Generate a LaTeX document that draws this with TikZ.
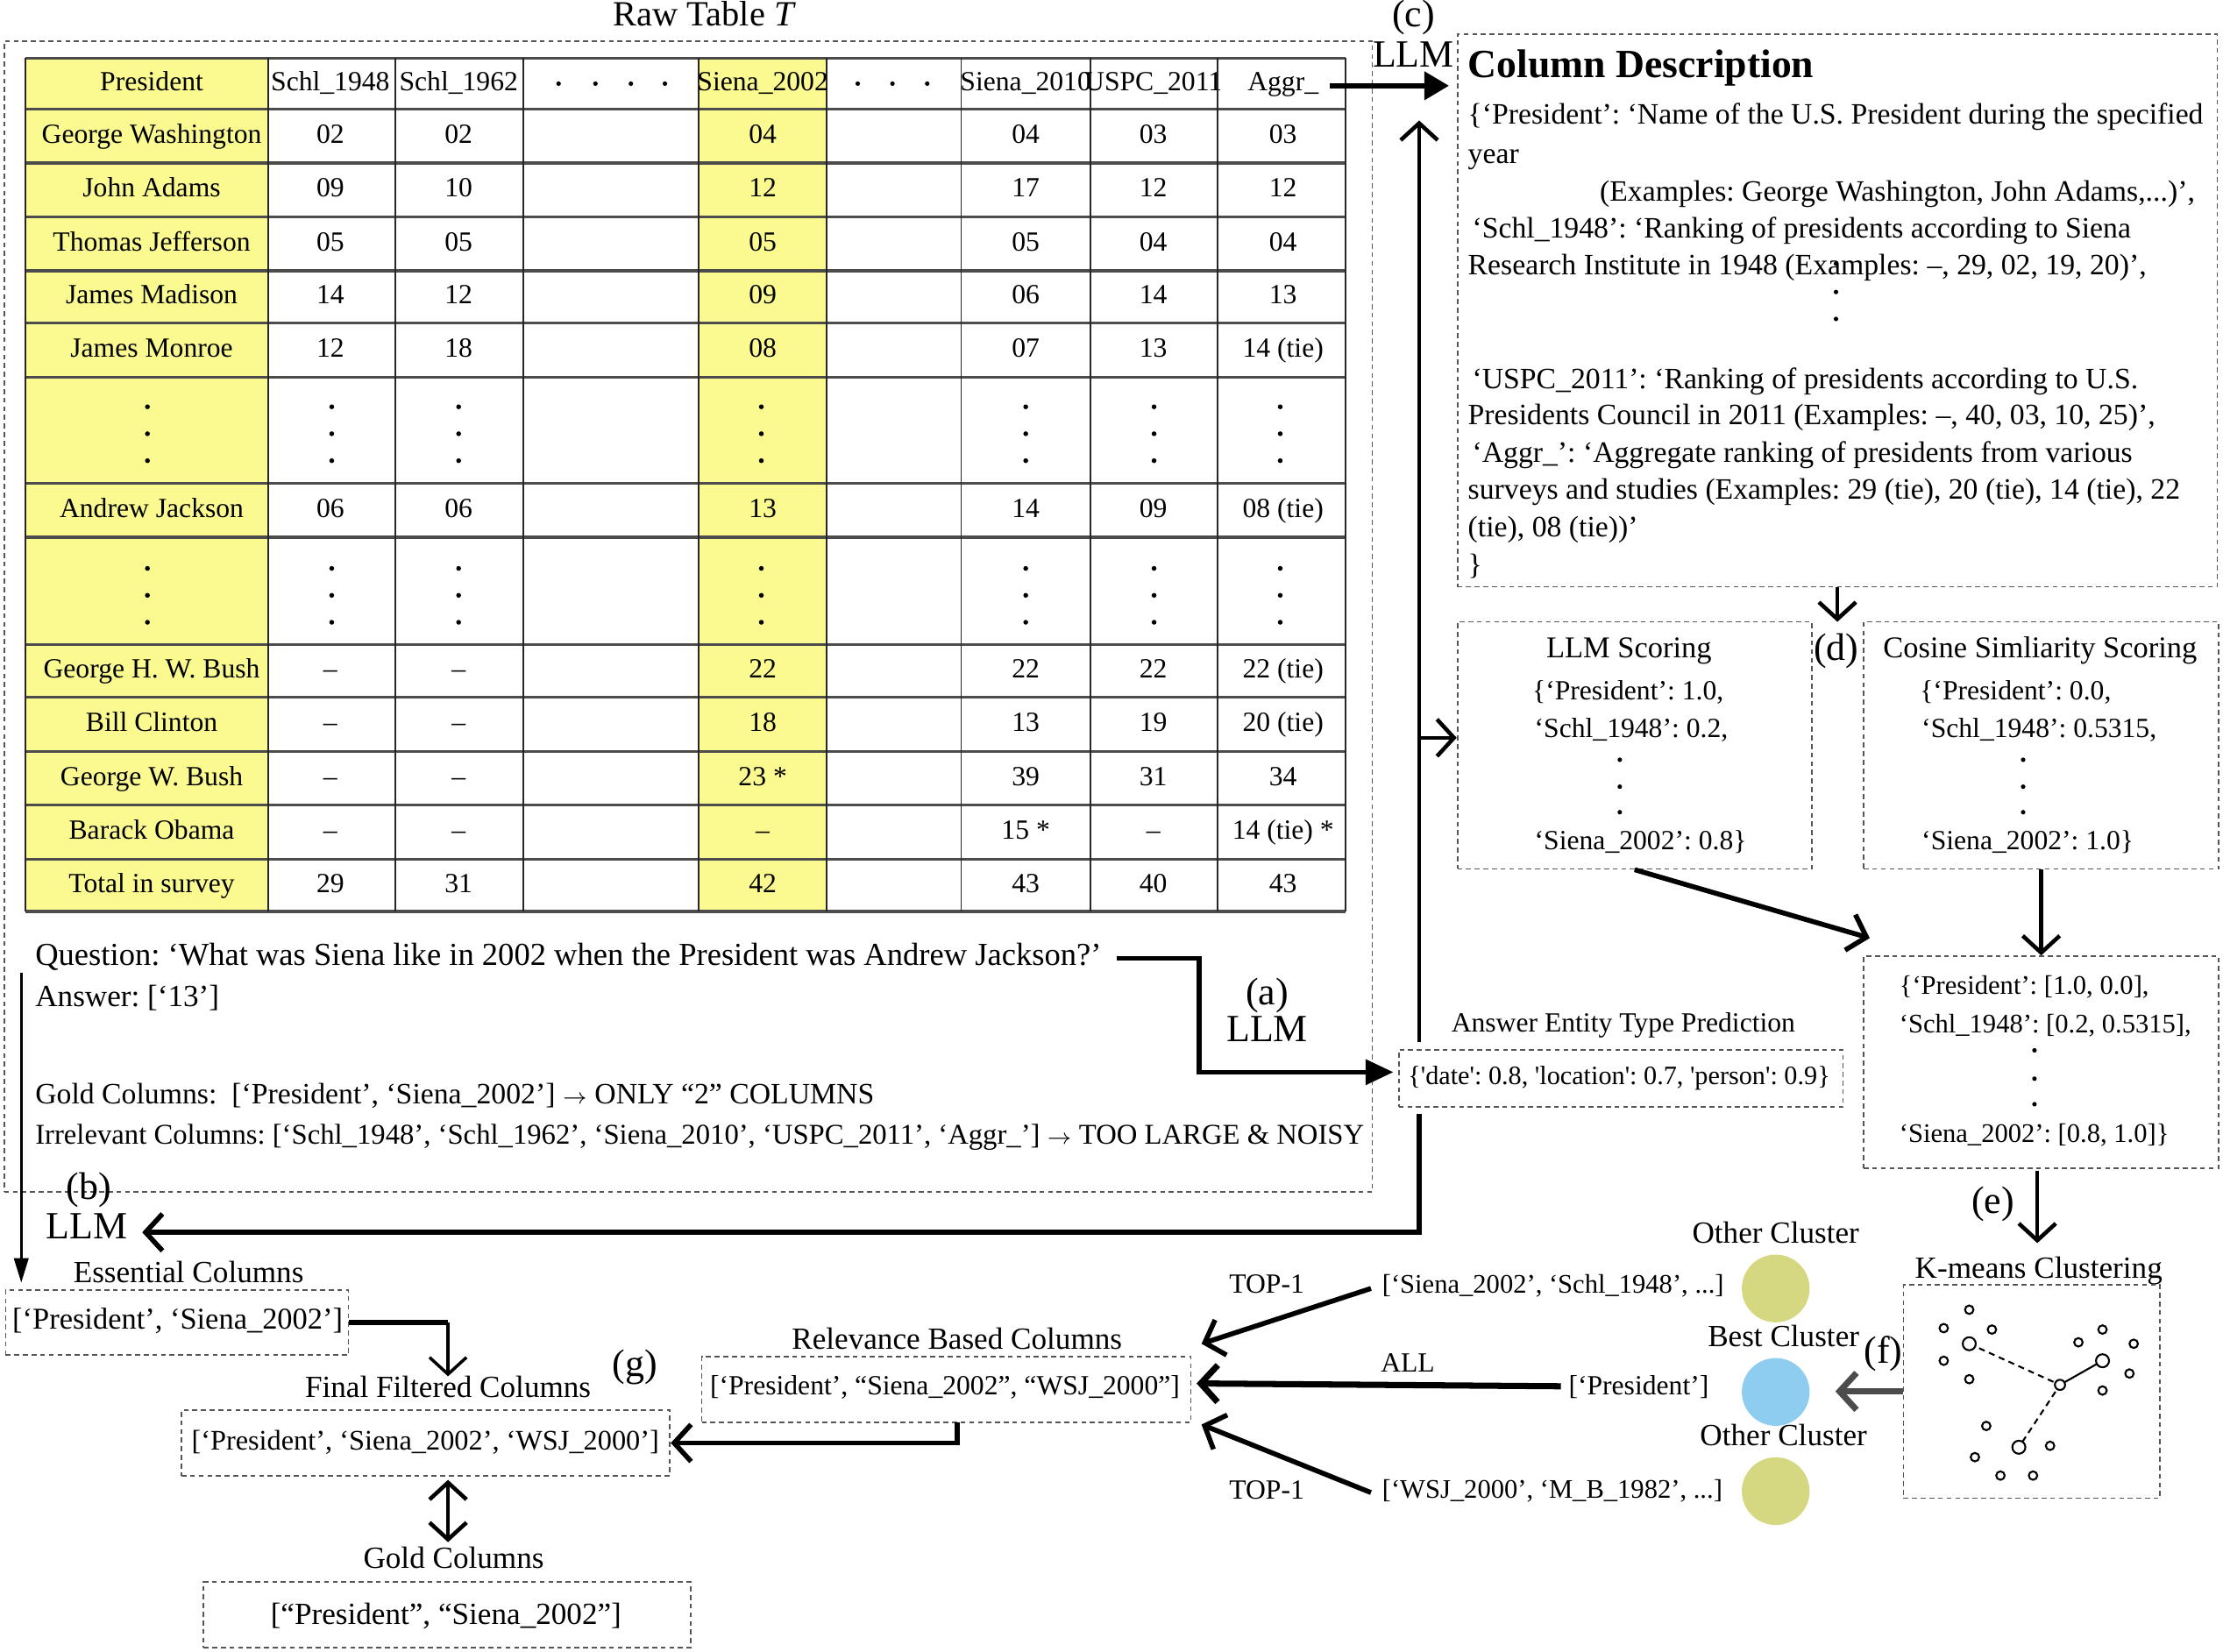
\documentclass[tikz,border=0pt]{standalone}
\usepackage{fontspec}
\setmainfont{Liberation Serif}[Ligatures=TeXOff]
\usetikzlibrary{arrows.meta,fit}
\newcommand\ftab{\fontsize{9}{10}\selectfont}
\newcommand\fdesc{\fontsize{9.6}{11}\selectfont}
\newcommand\fcdt{\fontsize{13}{15}\selectfont\bfseries}
\newcommand\fqa{\fontsize{10.4}{12}\selectfont}
\newcommand\fqb{\fontsize{10}{12}\selectfont}
\newcommand\fqc{\fontsize{9.6}{12}\selectfont}
\newcommand\fqd{\fontsize{9.3}{12}\selectfont}
\newcommand\flab{\fontsize{12.5}{14}\selectfont}
\newcommand\fraw{\fontsize{11.5}{13}\selectfont}
\newcommand\fsm{\fontsize{9}{10}\selectfont}
\newcommand\fsn{\fontsize{8.7}{10}\selectfont}
\newcommand\fsc{\fontsize{9.8}{11}\selectfont}
\newcommand\fhd{\fontsize{10}{12}\selectfont}
\newcommand\sarr{${\scriptstyle\rightarrow}$}
\definecolor{tyellow}{RGB}{250,250,145}
\definecolor{olivec}{RGB}{213,216,128}
\definecolor{bluec}{RGB}{142,204,240}
\definecolor{dashc}{RGB}{85,85,85}
\begin{document}
\frenchspacing
\begin{tikzpicture}[x=0.016173cm,y=-0.016173cm,
  tc/.style={inner sep=0pt,anchor=mid},
  tw/.style={inner sep=0pt,anchor=mid west},
  dbox/.style={draw=dashc,dash pattern=on 1.6pt off 1.2pt,line width=0.5pt,inner sep=0pt},
  hl/.style={draw=black!70,line width=0.9pt},
  vl/.style={draw=black!85,line width=0.5pt},
  tri/.style={-{Triangle[length=8pt,width=9pt]}},
  barb/.style={-{Straight Barb[length=5.5pt,width=12pt]}},
  dbarb/.style={{Straight Barb[length=5.5pt,width=12pt]}-{Straight Barb[length=5.5pt,width=12pt]}},
  lwA/.style={line width=1.6pt},
  lwB/.style={line width=1.3pt},
  lwC/.style={line width=1pt},
  sdot/.style={draw=black,line width=0.6pt}
]
\useasboundingbox (0,0) rectangle (1568,1165);

% ---------------- Raw table ----------------
\node[tc,font=\fraw] (rawt) at (497,13) {Raw Table \textit{T}};
\node[dbox,fit={(3,29)(968,841)}] (tbox) {};
\fill[tyellow] (18,41) rectangle (189,643);
\fill[tyellow] (493,41) rectangle (583,643);
\foreach \yy in {41,77,115,153,191,228,266,341,379,455,492,530,568,606,643}
  \draw[hl] (18,\yy) -- (949,\yy);
\foreach \xx in {18,189,279,369,493,583,678,769,859,949}
  \draw[vl] (\xx,41) -- (\xx,643);
\begin{scope}[every node/.style={tc,font=\ftab}]
\node (hP) at (107,59) {President};
\node (hA) at (233,59) {Schl\_1948};
\node (hB) at (323.5,59) {Schl\_1962};
\node (hS) at (538,59) {Siena\_2002};
\node (hC) at (723.5,59) {Siena\_2010};
\node (hD) at (813.5,59) {USPC\_2011};
\node (hE) at (905,59) {Aggr\_};
\foreach \vy/\vp/\va/\vb/\vs/\vc/\vd/\ve/\vk in {
 96/George Washington/02/02/04/04/03/03/2,
 134/John Adams/09/10/12/17/12/12/3,
 172/Thomas Jefferson/05/05/05/05/04/04/4,
 209.5/James Madison/14/12/09/06/14/13/5,
 247/James Monroe/12/18/08/07/13/14 (tie)/6,
 360/Andrew Jackson/06/06/13/14/09/08 (tie)/8,
 473.5/George H. W. Bush/–/–/22/22/22/22 (tie)/10,
 511/Bill Clinton/–/–/18/13/19/20 (tie)/11,
 549/George W. Bush/–/–/23 */39/31/34/12,
 587/Barack Obama/–/–/–/15 */–/14 (tie) */13,
 624.5/Total in survey/29/31/42/43/40/43/14}{
  \node (p\vk) at (107,\vy) {\vp};
  \node (a\vk) at (233,\vy) {\va};
  \node (b\vk) at (323.5,\vy) {\vb};
  \node (s\vk) at (538,\vy) {\vs};
  \node (c\vk) at (723.5,\vy) {\vc};
  \node (d\vk) at (813.5,\vy) {\vd};
  \node (e\vk) at (905,\vy) {\ve};
}
\end{scope}
\foreach \xx in {394,420,445,469,605,629.5,654}
  \fill (\xx,59) circle (1.6);
\foreach \xx in {104,234,323.5,537,723.5,814,903}
  \foreach \yy in {287,306,325,401,420,439}
    \fill (\xx,\yy) circle (1.7);

% ---------------- Question block ----------------
\node[tw,font=\fqa] (q1) at (24.5,676) {Question: ‘What was Siena like in 2002 when the President was Andrew Jackson?’};
\node[tw,font=\fqb] (q2) at (24.5,705) {Answer: [‘13’]};
\node[tw,font=\fqc] (q3) at (24.5,774) {Gold Columns:~ [‘President’, ‘Siena\_2002’] \sarr{} ONLY “2” COLUMNS};
\node[tw,font=\fqd] (q4) at (24.5,802) {Irrelevant Columns: [‘Schl\_1948’, ‘Schl\_1962’, ‘Siena\_2010’, ‘USPC\_2011’, ‘Aggr\_’] \sarr{} TOO LARGE \& NOISY};

% ---------------- LLM labels ----------------
\node[tc,font=\flab] (la) at (893.8,703.9) {(a)};
\node[tc,font=\flab] (llma) at (893.8,729.6) {LLM};
\node[tc,font=\flab] (lb) at (62.7,841) {(b)};
\node[tc,font=\flab] (llmb) at (61.4,868.7) {LLM};
\node[tc,font=\flab] (lc) at (997,14) {(c)};
\node[tc,font=\flab] (llmc) at (997,42) {LLM};
\node[tc,font=\flab] (ld) at (1295.3,460.7) {(d)};
\node[tc,font=\flab] (le) at (1405.7,851.2) {(e)};
\node[tc,font=\flab] (lf) at (1328.5,956.5) {(f)};
\node[tc,font=\flab] (lg) at (448,966) {(g)};

% ---------------- Column description ----------------
\node[dbox,fit={(1028,24)(1564,414)}] (cd) {};
\node[tw,font=\fcdt] (cdt) at (1035,49.6) {Column Description};
\begin{scope}[every node/.style={tw,font=\fdesc}]
\node (cd1) at (1035,82.8) {\{‘President’: ‘Name of the U.S. President during the specified};
\node (cd2) at (1035,110.4) {year};
\node (cd3) at (1128,136.6) {(Examples: George Washington, John Adams,...)’,};
\node (cd4) at (1038,162.8) {‘Schl\_1948’: ‘Ranking of presidents according to Siena};
\node (cd5) at (1035,189) {Research Institute in 1948 (Examples: –, 29, 02, 19, 20)’,};
\node (cd6) at (1038,269) {‘USPC\_2011’: ‘Ranking of presidents according to U.S.};
\node (cd7) at (1035,294.8) {Presidents Council in 2011 (Examples: –, 40, 03, 10, 25)’,};
\node (cd8) at (1038,321) {‘Aggr\_’: ‘Aggregate ranking of presidents from various};
\node (cd9) at (1035,347.3) {surveys and studies (Examples: 29 (tie), 20 (tie), 14 (tie), 22};
\node (cd10) at (1035,374) {(tie), 08 (tie))’};
\node (cd11) at (1035,400) {\}};
\end{scope}
\foreach \yy in {186,206,225} \fill (1295,\yy) circle (1.6);

% ---------------- Scoring boxes ----------------
\node[dbox,fit={(1028,438.7)(1278,613)}] (llm) {};
\node[tc,font=\fsc] (llmt) at (1149,459) {LLM Scoring};
\node[tw,font=\fsm] (l1) at (1080.4,489) {\{‘President’: 1.0,};
\node[tw,font=\fsm] (l2) at (1082,515.6) {‘Schl\_1948’: 0.2,};
\node[tw,font=\fsm] (l3) at (1082,594.7) {‘Siena\_2002’: 0.8\}};
\foreach \yy in {536,555,573} \fill (1142.5,\yy) circle (1.6);

\node[dbox,fit={(1314.5,438.7)(1565,613)}] (cos) {};
\node[tc,font=\fsc] (cost) at (1439,459) {Cosine Simliarity Scoring};
\node[tw,font=\fsm] (c1) at (1353.8,489) {\{‘President’: 0.0,};
\node[tw,font=\fsm] (c2) at (1355,515.6) {‘Schl\_1948’: 0.5315,};
\node[tw,font=\fsm] (c3) at (1355,594.7) {‘Siena\_2002’: 1.0\}};
\foreach \yy in {536,555,573} \fill (1427,\yy) circle (1.6);

\node[dbox,fit={(1314.5,674.6)(1565,824)}] (comb) {};
\node[tw,font=\fsn] (m1) at (1339.3,696.6) {\{‘President’: [1.0, 0.0],};
\node[tw,font=\fsn] (m2) at (1339.3,723.4) {‘Schl\_1948’: [0.2, 0.5315],};
\node[tw,font=\fsn] (m3) at (1339.3,801.2) {‘Siena\_2002’: [0.8, 1.0]\}};
\foreach \yy in {741,761,779} \fill (1435,\yy) circle (1.6);

% ---------------- Answer entity type ----------------
\node[tc,font=\fsm] (aetl) at (1145,723) {Answer Entity Type Prediction};
\node[dbox,fit={(986.6,740.6)(1300,781)}] (aet) {};
\node[tc,font=\fontsize{8.6}{10}\selectfont] (aett) at (1142,760) {\{'date': 0.8, 'location': 0.7, 'person': 0.9\}};

% ---------------- Bottom left boxes ----------------
\node[tc,font=\fhd] (essl) at (133,899.6) {Essential Columns};
\node[dbox,fit={(4,910)(245.7,956)}] (ess) {};
\node[tc,font=\fontsize{9.8}{11}\selectfont] (esst) at (125.3,932.6) {[‘President’, ‘Siena\_2002’]};

\node[tc,font=\fhd] (finl) at (316,981) {Final Filtered Columns};
\node[dbox,fit={(128,995)(472.6,1041)}] (fin) {};
\node[tc,font=\fontsize{9.2}{11}\selectfont] (fint) at (300,1018) {[‘President’, ‘Siena\_2002’, ‘WSJ\_2000’]};

\node[tc,font=\fhd] (rell) at (675,947) {Relevance Based Columns};
\node[dbox,fit={(495,957)(840,1003.6)}] (rel) {};
\node[tc,font=\fsm] (relt) at (666.5,979) {[‘President’, “Siena\_2002”, “WSJ\_2000”]};

\node[tc,font=\fhd] (goldl) at (320,1101.6) {Gold Columns};
\node[dbox,fit={(143.6,1116)(487,1162.6)}] (gold) {};
\node[tc,font=\fhd] (goldt) at (314.6,1140.8) {[“President”, “Siena\_2002”]};

% ---------------- Clusters ----------------
\node[tc,font=\fhd] (oc1) at (1252.5,872) {Other Cluster};
\node[tc,font=\fhd] (bc) at (1258,945) {Best Cluster};
\node[tc,font=\fhd] (oc2) at (1258,1015) {Other Cluster};
\node[circle,fill=olivec,minimum size=22pt,inner sep=0pt] (e1) at (1252.5,909) {};
\node[circle,fill=bluec,minimum size=22pt,inner sep=0pt] (e2) at (1252.5,982) {};
\node[circle,fill=olivec,minimum size=22pt,inner sep=0pt] (e3) at (1252.5,1052) {};

\node[tc,font=\fsm] (top1a) at (893.5,907) {TOP-1};
\node[tc,font=\fsm] (alll) at (993,963) {ALL};
\node[tc,font=\fsm] (top1b) at (893.5,1052.6) {TOP-1};
\node[tw,font=\fsn] (sl1) at (974.5,907) {[‘Siena\_2002’, ‘Schl\_1948’, ...]};
\node[tw,font=\fsm] (sl2) at (1106,979) {[‘President’]};
\node[tw,font=\fsn] (sl3) at (974.5,1052) {[‘WSJ\_2000’, ‘M\_B\_1982’, ...]};

\node[tc,font=\fhd] (kml) at (1438,896.6) {K-means Clustering};
\node[dbox,fit={(1342.6,906.5)(1523.6,1057)}] (km) {};
\draw[black,line width=0.6pt,dash pattern=on 2pt off 1.5pt] (1389,948) -- (1453,977) -- (1424,1021);
\draw[black,line width=0.6pt] (1453,977) -- (1483,960);
\foreach \xx/\yy in {1389/924,1371/937,1405/938,1371/960,1389/973,1483/938,1466/947,1505/948,1502/969,1483/981,1401/1006,1446/1020,1393/1028,1411/1041,1434/1041}
  \draw[sdot,fill=white] (\xx,\yy) circle (3);
\foreach \xx/\yy in {1389/948,1483/960,1424/1021}
  \draw[sdot,fill=white] (\xx,\yy) circle (4.6);
\draw[sdot,fill=white] (1453,977) circle (3.6);

% ---------------- Connectors ----------------
\coordinate (ag0) at (938,60.5);
\draw[lwA,tri,shorten >=2.5pt] (ag0) -- (cd.west |- ag0);

\coordinate (qa0) at (788,676);
\coordinate (qa1) at (846,676);
\coordinate (qa2) at (846,756.4);
\draw[lwA,-{Triangle[length=9pt,width=8pt]},shorten >=1.5pt] (qa0) -- (qa1) -- (qa2) -- (aet.west |- qa2);

\coordinate (vA) at (1001,735);
\coordinate (vT) at (1001,85);
\coordinate (vB) at (1001,520.5);
\coordinate (vC) at (1001,786);
\coordinate (vD) at (1001,869.4);
\coordinate (bT) at (100.3,869.4);
\draw[lwB,barb] (vA) -- (vT);
\draw[lwB,barb] (vB) -- (llm.west |- vB);
\draw[lwA,barb] (vC) -- (vD) -- (bT);

\coordinate (lv0) at (15,686);
\coordinate (lv1) at (15,905);
\draw[lwC,-{Triangle[length=8pt,width=4.6pt]}] (lv0) -- (lv1);

\coordinate (ef) at (316,933);
\coordinate (efT) at (316,971);
\draw[lwA] (ess.east) -- (ef);
\draw[lwC,barb] (ef) -- (efT);

\coordinate (rf0) at (675,1003.6);
\coordinate (rf1) at (675,1018);
\draw[lwA,barb] (rf0) -- (rf1) -- (fin.east);

\coordinate (da0) at (316,1044);
\coordinate (da1) at (316,1088);
\draw[lwB,dbarb] (da0) -- (da1);

\coordinate (t1s) at (967,909);
\coordinate (t1e) at (847.5,948);
\coordinate (t2s) at (1101,978);
\coordinate (t2e) at (844,976);
\coordinate (t3s) at (967,1053);
\coordinate (t3e) at (847.5,1005);
\draw[lwA,barb] (t1s) -- (t1e);
\draw[line width=2pt,barb] (t2s) -- (t2e);
\draw[lwA,barb] (t3s) -- (t3e);

\coordinate (fT) at (1294.6,981.6);
\draw[line width=2pt,draw=black!70,barb] (km.west |- fT) -- (fT);

\coordinate (eS) at (1437,826);
\coordinate (eT) at (1437,877);
\draw[lwB,barb] (eS) -- (eT);

\coordinate (dT) at (1296,438.7);
\draw[lwB,barb] (cd.south) -- (dT);

\coordinate (sT) at (1318.8,661.8);
\draw[lwA,barb] (llm.south) -- (sT);
\draw[lwB,barb] (cos.south) -- (comb.north);
\end{tikzpicture}
\end{document}
